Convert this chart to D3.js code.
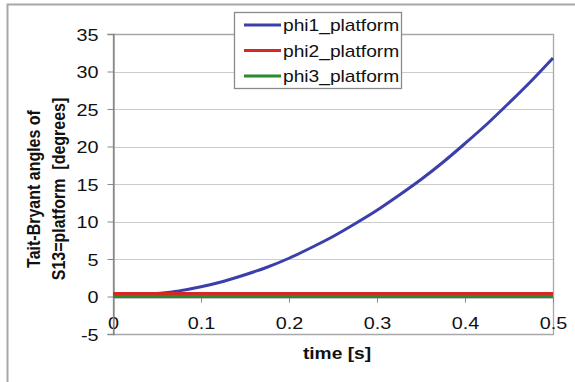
<!DOCTYPE html>
<html>
<head>
<meta charset="utf-8">
<script src="https://cdn.jsdelivr.net/npm/d3@7"></script>
<style>
  body { margin: 0; background: #fff; }
  svg { display: block; font-family: Arial, "Liberation Sans", sans-serif; }
</style>
</head>
<body>
<svg class="chart" width="575" height="382"></svg>
<script>
// time samples (s)
var times = [0, 0.025, 0.05, 0.075, 0.1, 0.125, 0.15, 0.175, 0.2, 0.225, 0.25,
             0.275, 0.3, 0.325, 0.35, 0.375, 0.4, 0.425, 0.45, 0.475, 0.5];
var phi1 = [0.35, 0.35, 0.4, 0.75, 1.3, 2.0, 2.9, 3.9, 5.1, 6.5, 8.0,
            9.7, 11.5, 13.5, 15.6, 17.9, 20.4, 23.0, 25.8, 28.7, 31.8];
var phi2 = [0.4, 0.4, 0.4, 0.4, 0.4, 0.4, 0.4, 0.4, 0.4, 0.4, 0.4,
            0.4, 0.4, 0.4, 0.4, 0.4, 0.4, 0.4, 0.4, 0.4, 0.4];
var phi3 = [0, 0, 0, 0, 0, 0, 0, 0, 0, 0, 0,
            0, 0, 0, 0, 0, 0, 0, 0, 0, 0];
var seriesNames = ["phi1_platform", "phi2_platform", "phi3_platform"];
var seriesColors = ["#3b3fab", "#d32a26", "#2b8a2e"];
var xTicks = [0, 0.1, 0.2, 0.3, 0.4, 0.5];
var yTicks = [-5, 0, 5, 10, 15, 20, 25, 30, 35];

var svg = d3.select(".chart");
var pLeft = 113, pRight = 553, pTop = 34, pBottom = 334;
var sx = 1.2; // the picture is stretched sideways

var x = d3.scaleLinear().domain([0, 0.5]).range([pLeft, pRight]);
var y = d3.scaleLinear().domain([-5, 35]).range([pBottom, pTop]);

// outer frame
svg.append("path")
  .attr("d", "M7.5,382 L7.5,4.5 L575,4.5")
  .attr("fill", "none")
  .attr("stroke", "#a8a8a8")
  .attr("stroke-width", 2);

// gridlines
svg.selectAll(".grid")
  .data(yTicks.filter(function(d) { return d > -5 && d < 35; }))
  .enter()
  .append("line")
  .attr("x1", pLeft).attr("x2", pRight)
  .attr("y1", function(d) { return Math.round(y(d)) + 0.5; })
  .attr("y2", function(d) { return Math.round(y(d)) + 0.5; })
  .attr("stroke", "#cccccc")
  .attr("stroke-width", 1.2);

// plot area border (top, right, bottom)
svg.append("path")
  .attr("d", "M" + pLeft + "," + (pTop + 0.5) + " L" + (pRight + 0.5) + "," + (pTop + 0.5) +
             " L" + (pRight + 0.5) + "," + (pBottom + 0.5) + " L" + pLeft + "," + (pBottom + 0.5))
  .attr("fill", "none")
  .attr("stroke", "#a8a8a8")
  .attr("stroke-width", 1.3);

// y axis
var yAxis = d3.axisLeft(y).tickValues(yTicks).tickSize(6).tickFormat(function(d) { return String(d); });
var gy = svg.append("g")
  .attr("transform", "translate(" + (pLeft + 0.5) + ",0)")
  .call(yAxis);
gy.select(".domain").attr("stroke", "#888").attr("stroke-width", 1.3);
gy.selectAll(".tick line").attr("stroke", "#888");
gy.selectAll(".tick text")
  .attr("x", 0)
  .attr("dy", null)
  .attr("font-size", "16.5px")
  .attr("font-family", "Arial, 'Liberation Sans', sans-serif")
  .attr("fill", "#111")
  .attr("text-anchor", "end")
  .attr("transform", "translate(-15,6) scale(" + sx + ",1)");

// x axis through y=0
var xAxis = d3.axisBottom(x).tickValues(xTicks).tickSize(5).tickFormat(function(d) { return d === 0 ? "0" : d3.format(".1f")(d); });
var gx = svg.append("g")
  .attr("transform", "translate(0," + (Math.round(y(0)) + 0.5) + ")")
  .call(xAxis);
gx.select(".domain").attr("stroke", "#888");
gx.selectAll(".tick line").attr("stroke", "#888");
gx.selectAll(".tick text")
  .attr("y", 0)
  .attr("dy", null)
  .attr("font-size", "16.5px")
  .attr("font-family", "Arial, 'Liberation Sans', sans-serif")
  .attr("fill", "#111")
  .attr("transform", "translate(0,31) scale(" + sx + ",1)");
// y axis line drawn again above the "0" label, as in the original
svg.append("line")
  .attr("x1", pLeft + 0.5).attr("x2", pLeft + 0.5)
  .attr("y1", pTop).attr("y2", pBottom + 1)
  .attr("stroke", "#888").attr("stroke-width", 1.3);

// lines
var series = [phi1, phi2, phi3];
var line = d3.line()
  .x(function(d, i) { return x(times[i]); })
  .y(function(d) { return y(d); })
  .curve(d3.curveMonotoneX);

svg.selectAll(".series")
  .data(series)
  .enter()
  .append("path")
  .attr("d", function(d) { return line(d); })
  .attr("fill", "none")
  .attr("stroke", function(d, i) { return seriesColors[i]; })
  .attr("stroke-width", 3);

// axis titles
svg.append("text")
  .text("time [s]")
  .attr("text-anchor", "middle")
  .attr("font-weight", "bold")
  .attr("font-size", "16px")
  .attr("fill", "#111")
  .attr("transform", "translate(337,359) scale(" + sx + ",1)");

var yTitle = svg.append("text")
  .attr("text-anchor", "middle")
  .attr("font-weight", "bold")
  .attr("font-size", "16px")
  .attr("fill", "#111")
  .style("white-space", "pre")
  .attr("transform", "translate(40,189) rotate(-90) scale(1," + sx + ")");
yTitle.append("tspan").attr("x", 0).attr("y", 0).text("Tait-Bryant angles of");
yTitle.append("tspan").attr("x", 0).attr("y", 20.5).text("S13=platform  [degrees]");

// legend
var legend = svg.append("g");
legend.append("rect")
  .attr("x", 234.5).attr("y", 12.5)
  .attr("width", 167).attr("height", 76)
  .attr("fill", "#fff")
  .attr("stroke", "#8a8a8a")
  .attr("stroke-width", 1.3);

legend.selectAll(".key")
  .data(seriesNames)
  .enter()
  .append("line")
  .attr("x1", 244).attr("x2", 281)
  .attr("y1", function(d, i) { return 25 + 25.5 * i; })
  .attr("y2", function(d, i) { return 25 + 25.5 * i; })
  .attr("stroke", function(d, i) { return seriesColors[i]; })
  .attr("stroke-width", 3);

legend.selectAll(".label")
  .data(seriesNames)
  .enter()
  .append("text")
  .text(function(d) { return d; })
  .attr("font-size", "16px")
  .attr("fill", "#111")
  .attr("transform", function(d, i) { return "translate(283," + (31 + 25.5 * i) + ") scale(" + sx + ",1)"; });
</script>
</body>
</html>
